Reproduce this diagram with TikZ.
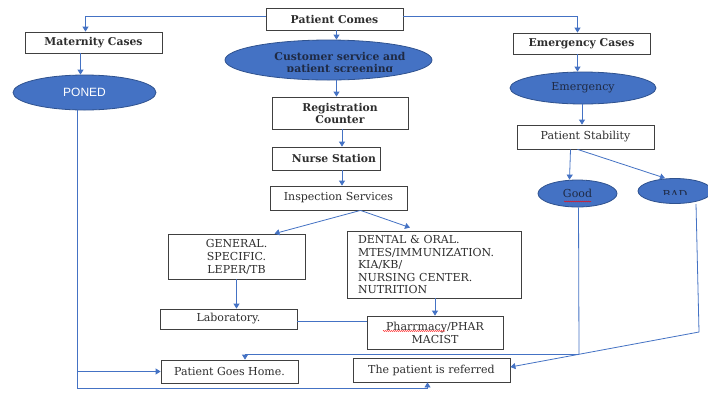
\documentclass[tikz,border=0pt]{standalone}
\usepackage{fontspec}
\setmainfont{DejaVu Serif}
\newfontfamily\mysans{Liberation Sans}
\usetikzlibrary{arrows.meta,shapes.geometric,decorations.pathmorphing}
\definecolor{lblue}{HTML}{4472C4}
\definecolor{eborder}{HTML}{2F528F}
\definecolor{txt}{HTML}{2E2E2E}
\definecolor{navy}{HTML}{1F2A44}
\newcommand\myfb{\bfseries\fontsize{10.8}{12}\selectfont}
\newcommand\myfr{\fontsize{11}{13}\selectfont}
\begin{document}
\begin{tikzpicture}[x=1pt,y=-1pt,
 box/.style={draw=black!75, line width=0.8pt, fill=white, inner sep=1pt, align=center, text=txt, font=\myfr},
 ell/.style={ellipse, draw=eborder, line width=0.8pt, fill=lblue, inner sep=0pt},
 conn/.style={draw=lblue, line width=0.8pt},
 arr/.style={conn, -{Triangle[width=6pt,length=5pt]}},
 squig/.style={draw=red, line width=0.5pt, decorate, decoration={snake, amplitude=0.5pt, segment length=2pt}}]
\useasboundingbox (0,0) rectangle (708,392);
\fill[white] (0,0) rectangle (708,392);

% top nodes
\node[box,minimum width=137pt,minimum height=22pt,font=\myfb] (pc) at (334.5,19) {Patient Comes};
\node[box,minimum width=137pt,minimum height=21pt,font=\myfb] (mat) at (93.5,42.5) {Maternity Cases};
\node[box,minimum width=137pt,minimum height=21pt,font=\myfb] (emc) at (581.5,43.5) {Emergency Cases};

% ellipses
\node[ell,minimum width=207pt,minimum height=40pt] (cs) at (328.5,60) {};
\begin{scope}
\clip (225,40) rectangle (432,71);
\node[align=center,text=navy,font=\bfseries\fontsize{10.8}{12.5}\selectfont,inner sep=0pt] (cst) at (340,63.5) {Customer service and\\patient screening};
\end{scope}
\node[ell,minimum width=143pt,minimum height=35pt,text=white,font=\mysans\fontsize{12}{14}\selectfont] (poned) at (84.5,92.5) {PONED};
\node[ell,minimum width=146pt,minimum height=32pt,text=navy,font=\myfr] (em) at (583,88) {Emergency};

% center column
\node[box,minimum width=136pt,minimum height=32pt,font=\myfb] (reg) at (340,113) {Registration\\Counter};
\node[box,minimum width=108pt,minimum height=23pt,font=\myfb] (nurse) at (326,158.5) {\hspace{16pt}Nurse Station};
\node[box,minimum width=137pt,minimum height=24pt] (insp) at (338.5,198) {Inspection Services};

% right column
\node[box,minimum width=137pt,minimum height=24pt] (ps) at (585.5,137) {Patient Stability};
\node[ell,minimum width=79pt,minimum height=27pt,text=navy,font=\myfr] (good) at (577.5,193.5) {Good};
\node[ell,minimum width=74pt,minimum height=25pt] (bad) at (675,191) {};
\begin{scope}
\clip (630,170) rectangle (708,194.5);
\node[text=navy,font=\myfr,inner sep=0pt] (badt) at (675,194.5) {BAD};
\end{scope}

% lower boxes
\node[box,minimum width=137pt,minimum height=45pt,font=\fontsize{11}{13}\selectfont] (gen) at (236.5,256.5) {GENERAL.\\SPECIFIC.\\LEPER/TB};
\node[box,minimum width=174pt,minimum height=67pt,align=left,text width=152pt,font=\fontsize{11}{12.5}\selectfont] (dental) at (434,264.5) {DENTAL \& ORAL.\\MTES/IMMUNIZATION.\\KIA/KB/\\NURSING CENTER.\\NUTRITION};
\node[box,minimum width=137pt,minimum height=20pt] (lab) at (228.5,319) {Laboratory.};
\node[box,minimum width=136pt,minimum height=33pt,font=\fontsize{11}{13}\selectfont] (pharm) at (435,332.5) {Pharrmacy/PHAR\\MACIST};
\node[box,minimum width=137pt,minimum height=23pt] (home) at (229.5,371.5) {Patient Goes Home.};
\node[box,minimum width=157pt,minimum height=24pt] (ref) at (431.5,370) {The patient is referred};

% spell-check squiggles
\draw[squig] (564,201.5) -- (591,201.5);
\draw[squig] (383,331) -- (445,331);

% connectors top
\draw[arr] ([yshift=3pt]pc.west) -| ([xshift=-8pt]mat.north);
\draw[arr] ([yshift=3pt]pc.east) -| ([xshift=-4pt]emc.north);
\draw[arr] ([xshift=2pt]pc.south) -- ([xshift=2pt]pc.south |- cs.north);
\draw[arr] ([xshift=-13pt]mat.south) -- ([xshift=-13pt]mat.south |- poned.north);
\draw[arr] ([xshift=8pt]cs.south) -- ([xshift=8pt]cs.south |- reg.north);
\draw[arr] ([xshift=2pt]reg.south) -- ([xshift=2pt]reg.south |- nurse.north);
\draw[arr] ([xshift=16pt]nurse.south) -- ([xshift=16pt]nurse.south |- insp.north);
\draw[arr] ([xshift=22pt]insp.south) -- ([xshift=38pt]gen.north);
\draw[arr] ([xshift=22pt]insp.south) -- ([xshift=-24pt,yshift=3pt]dental.north);
\draw[arr] ([xshift=-4pt]emc.south) -- ([xshift=-4pt]emc.south |- em.north);
\draw[arr] ([xshift=-1pt]em.south) -- ([xshift=-1pt]em.south |- ps.north);
\draw[arr] ([xshift=-15pt]ps.south) -- ([xshift=-8pt]good.north);
\draw[arr] ([xshift=-8pt]ps.south) -- ([xshift=-10pt]bad.north);
\draw[arr] (gen.south) -- (gen.south |- lab.north);
\draw[arr] ([xshift=1pt]dental.south) -- ([xshift=1pt]dental.south |- pharm.north);
\draw[conn] ([yshift=-2pt]lab.east) -- ([yshift=-2pt]lab.east -| pharm.west);

% bottom connectors
\coordinate (ptop) at (77,110);
\coordinate (pbot) at (77,388);
\draw[conn] (ptop) -- (pbot);
\draw[arr] (ptop |- home.west) -- (home.west);
\draw[conn] (pbot) -| ([xshift=-4pt,yshift=-6pt]ref.south);
\draw[arr] ([xshift=-4pt,yshift=-6pt]ref.south) -- ([xshift=-4pt]ref.south);

\coordinate (gbot) at (579,354);
\draw[conn] ([xshift=1pt]good.south) -- (gbot);
\draw[conn] (gbot) -- (245,354) coordinate (hturn);
\draw[arr] (hturn) -- (hturn |- home.north);

\coordinate (btop) at (696,204);
\coordinate (bbot) at (699,332);
\draw[conn] (btop) -- (bbot);
\draw[arr] (bbot) -- ([yshift=3pt]ref.east);
\end{tikzpicture}
\end{document}
